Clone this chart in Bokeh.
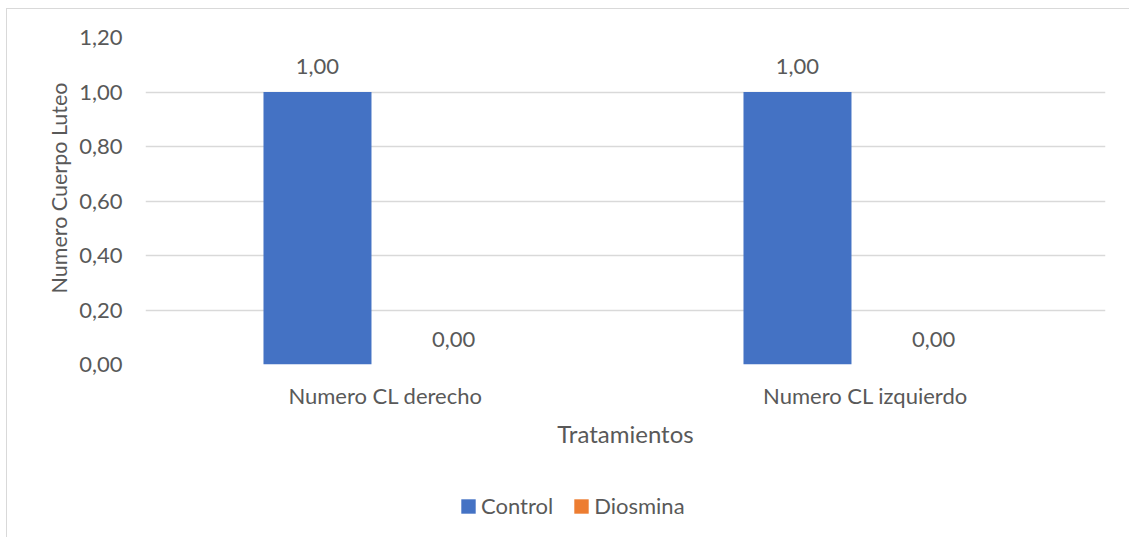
from bokeh.plotting import figure
from bokeh.layouts import column
from bokeh.models import (ColumnDataSource, FactorRange, Range1d, FixedTicker,
                          CustomJSTickFormatter, LabelSet, Legend, LegendItem, Title)
from bokeh.core.properties import value
from bokeh.transform import dodge
from bokeh.embed import file_html
from bokeh.resources import INLINE

# ---- data ----
categories = ["Numero CL derecho", "Numero CL izquierdo"]
series_names = ["Control", "Diosmina"]
control = [1.0, 1.0]
diosmina = [0.0, 0.0]
y_ticks = [0.0, 0.2, 0.4, 0.6, 0.8, 1.0, 1.2]
x_title = "Tratamientos"
y_title = "Numero Cuerpo Luteo"
colors = ["#4472C4", "#ED7D31"]

FONT = "Lato"
TXT = "#595959"
GRID = "#D9D9D9"


def fmt(v):
    return f"{v:.2f}".replace(".", ",")


src = ColumnDataSource(dict(
    cat=categories,
    control=control,
    diosmina=diosmina,
    control_lbl=[fmt(v) for v in control],
    diosmina_lbl=[fmt(v) for v in diosmina],
))

p = figure(x_range=FactorRange(*categories, range_padding=0),
           y_range=Range1d(y_ticks[0], y_ticks[-1]),
           width=1122, height=461, output_backend="svg", toolbar_location=None,
           min_border_left=138, min_border_right=24, min_border_top=28,
           min_border_bottom=106)
p.outline_line_color = None
p.background_fill_color = "white"
p.border_fill_color = "white"

off = 0.1417
bw = 0.225
r1 = p.vbar(x=dodge("cat", -off, range=p.x_range), top="control", bottom=0, width=bw,
            source=src, fill_color=colors[0], line_color=None)
r2 = p.vbar(x=dodge("cat", off, range=p.x_range), top="diosmina", bottom=0, width=bw,
            source=src, fill_color=colors[1], line_color=None)

for col, lbl, sign in (("control", "control_lbl", -1), ("diosmina", "diosmina_lbl", 1)):
    ls = LabelSet(x=dodge("cat", sign * off, range=p.x_range), y=col, text=lbl, source=src,
                  text_align="center", text_baseline="alphabetic", y_offset=18,
                  text_font=value(FONT), text_font_size=value("22px"), text_color=TXT)
    p.add_layout(ls)

# axes
p.yaxis.ticker = FixedTicker(ticks=y_ticks)
p.yaxis.formatter = CustomJSTickFormatter(code="return tick.toFixed(2).replace('.', ',');")
for ax in (p.xaxis[0], p.yaxis[0]):
    ax.axis_line_color = None
    ax.major_tick_line_color = None
    ax.minor_tick_line_color = None
    ax.major_tick_out = 0
    ax.major_tick_in = 0
    ax.minor_tick_out = 0
    ax.major_label_text_font = FONT
    ax.major_label_text_font_size = "22px"
    ax.major_label_text_color = TXT
    ax.axis_label_text_font = FONT
    ax.axis_label_text_font_size = "24px"
    ax.axis_label_text_font_style = "normal"
    ax.axis_label_text_color = TXT

p.yaxis.major_label_standoff = 23
p.xaxis.major_label_standoff = 17
p.xaxis.axis_label = x_title
p.xaxis.axis_label_standoff = 7

# y-axis title as a side title (Excel places it slightly above centre)
ytitle = Title(text=y_title, align="left", offset=71, vertical_align="bottom", standoff=10,
               text_font=FONT, text_font_size="21.5px", text_font_style="normal",
               text_color=TXT)
p.add_layout(ytitle, "left")

p.xgrid.grid_line_color = None
p.ygrid.grid_line_color = GRID
p.ygrid.grid_line_width = 1.5

# ---- legend strip below the chart (proxy renderers of zero height) ----
leg_src = ColumnDataSource(dict(x=[0.5], top=[0.0]))
p2 = figure(width=1122, height=67, output_backend="svg", toolbar_location=None,
            x_range=Range1d(0, 1), y_range=Range1d(0, 1),
            x_axis_location=None, y_axis_location=None,
            min_border=0, min_border_left=0, min_border_right=0,
            min_border_top=0, min_border_bottom=0)
p2.outline_line_color = None
p2.grid.visible = False
p2.background_fill_color = "white"
p2.border_fill_color = "white"
lr1 = p2.vbar(x="x", top="top", bottom=0, width=0.01, source=leg_src,
              fill_color=colors[0], line_color=None)
lr2 = p2.vbar(x="x", top="top", bottom=0, width=0.01, source=leg_src,
              fill_color=colors[1], line_color=None)

legend = Legend(items=[LegendItem(label=series_names[0], renderers=[lr1]),
                       LegendItem(label=series_names[1], renderers=[lr2])],
                orientation="horizontal", location=(314, 18),
                glyph_width=18, glyph_height=18, label_standoff=4, spacing=19,
                padding=0, margin=0, border_line_color=None, background_fill_alpha=0,
                label_text_font=FONT, label_text_font_size="22px", label_text_color=TXT)
p2.add_layout(legend)

layout = column(p, p2, spacing=0)
layout.margin = (8, 0, 0, 6)
layout.styles = {"border-top": "1px solid #D9D9D9", "border-left": "1px solid #D9D9D9"}

open("out.html", "w").write(file_html(layout, INLINE))
